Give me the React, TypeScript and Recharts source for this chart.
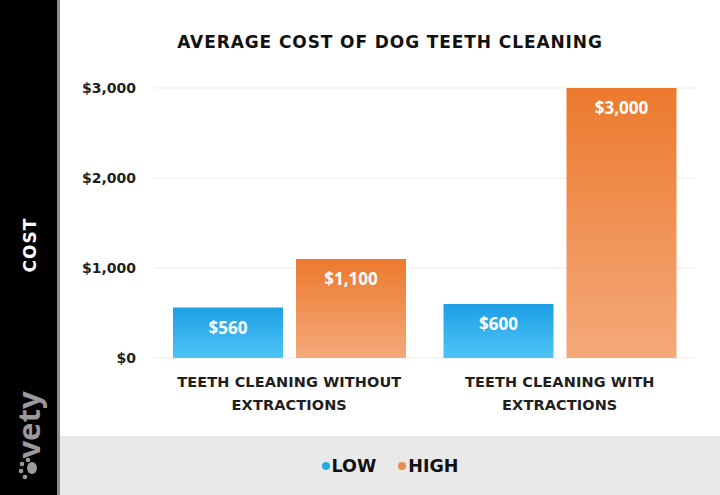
import React from "react";
import { BarChart, Bar, XAxis, YAxis, CartesianGrid, LabelList } from "recharts";

const categories = ["TEETH CLEANING WITHOUT EXTRACTIONS", "TEETH CLEANING WITH EXTRACTIONS"];
const categoryLines = [
  ["TEETH CLEANING WITHOUT", "EXTRACTIONS"],
  ["TEETH CLEANING WITH", "EXTRACTIONS"],
];
const lowCosts = [560, 600];
const highCosts = [1100, 3000];
const yTicks = [0, 1000, 2000, 3000];

const data = categories.map((name, i) => ({
  name,
  low: lowCosts[i],
  high: highCosts[i],
}));

const FONT = "'DejaVu Sans', sans-serif";
const LABEL_FONT = "'Open Sans', 'DejaVu Sans', sans-serif";
const money = (v: any) => `$${Number(v).toLocaleString("en-US")}`;

function CategoryTick(props: any) {
  const { x, y, index } = props;
  const lines = categoryLines[index] ?? [];
  return (
    <g transform={`translate(${x},${y})`}>
      {lines.map((line, i) => (
        <text
          key={i}
          x={0}
          y={21 + i * 23}
          textAnchor="middle"
          fill="#1f1f1f"
          fontSize={14.5}
          fontWeight={700}
          fontFamily={FONT}
          letterSpacing={0.1}
        >
          {line}
        </text>
      ))}
    </g>
  );
}

export default function App() {
  return (
    <div
      style={{
        position: "absolute",
        left: 0,
        top: 0,
        width: 720,
        height: 495,
        background: "#fff",
        overflow: "hidden",
        fontFamily: FONT,
      }}
    >
      <div
        style={{
          position: "absolute",
          top: 32,
          left: 60,
          right: 0,
          textAlign: "center",
          fontSize: 17,
          lineHeight: "20px",
          fontWeight: 700,
          letterSpacing: 0.9,
          color: "#111",
        }}
      >
        AVERAGE COST OF DOG TEETH CLEANING
      </div>

      <div style={{ position: "absolute", left: 0, top: 0 }}>
        <BarChart
          width={720}
          height={436}
          data={data}
          margin={{ top: 88, right: 25, bottom: 18, left: 0 }}
          barSize={110}
          barGap={13}
        >
          <defs>
            <linearGradient id="lowGrad" x1="0" y1="0" x2="0" y2="1">
              <stop offset="0%" stopColor="#1c9fe4" />
              <stop offset="100%" stopColor="#4fc4f6" />
            </linearGradient>
            <linearGradient id="highGrad" x1="0" y1="0" x2="0" y2="1">
              <stop offset="0%" stopColor="#ec7a2e" />
              <stop offset="100%" stopColor="#f4a97a" />
            </linearGradient>
          </defs>
          <CartesianGrid vertical={false} stroke="#ececec" />
          <XAxis
            dataKey="name"
            axisLine={false}
            tickLine={false}
            height={60}
            tick={<CategoryTick />}
            interval={0}
          />
          <YAxis
            width={154}
            domain={[0, 3000]}
            ticks={yTicks}
            axisLine={false}
            tickLine={false}
            tickSize={6}
            tickMargin={12}
            tickFormatter={money}
            tick={{ fill: "#1f1f1f", fontSize: 14, fontWeight: 700, fontFamily: FONT }}
          />
          <Bar dataKey="low" fill="url(#lowGrad)" isAnimationActive={false}>
            <LabelList
              dataKey="low"
              position="insideTop"
              offset={14}
              formatter={money}
              fill="#fff"
              fontSize={17}
              fontWeight={700}
              fontFamily={LABEL_FONT}
            />
          </Bar>
          <Bar dataKey="high" fill="url(#highGrad)" isAnimationActive={false}>
            <LabelList
              dataKey="high"
              position="insideTop"
              offset={14}
              formatter={money}
              fill="#fff"
              fontSize={17}
              fontWeight={700}
              fontFamily={LABEL_FONT}
            />
          </Bar>
        </BarChart>
      </div>

      {/* sidebar */}
      <div
        style={{
          position: "absolute",
          left: 0,
          top: 0,
          width: 57,
          height: 495,
          background: "#000",
          borderRight: "3px solid #8a8a8a",
        }}
      >
        <svg width={57} height={495}>
          <text
            x={0}
            y={0}
            transform="translate(36,245) rotate(-90)"
            textAnchor="middle"
            fill="#fff"
            fontSize={17}
            fontWeight={700}
            fontFamily={FONT}
            letterSpacing={1}
          >
            COST
          </text>
          <text
            x={0}
            y={0}
            transform="translate(40,425) rotate(-90)"
            textAnchor="middle"
            fill="#9a9a9a"
            fontSize={31}
            fontWeight={700}
            fontFamily={LABEL_FONT}
          >
            vety
          </text>
          <g fill="#9a9a9a">
            <ellipse cx={32} cy={468} rx={5} ry={6} />
            <circle cx={28} cy={460} r={2.3} />
            <circle cx={22} cy={464} r={2.3} />
            <circle cx={21} cy={471} r={2.3} />
            <circle cx={25} cy={477} r={2.3} />
          </g>
        </svg>
      </div>

      {/* legend band */}
      <div
        style={{
          position: "absolute",
          left: 60,
          top: 436,
          width: 660,
          height: 59,
          background: "#e9e9e9",
          display: "flex",
          alignItems: "center",
          justifyContent: "center",
          gap: 22,
          fontSize: 17.5,
          fontWeight: 700,
          color: "#111",
        }}
      >
        <span style={{ display: "flex", alignItems: "center" }}>
          <span style={{ width: 8, height: 8, borderRadius: 4, background: "#29a9e1", marginRight: 2 }} />
          LOW
        </span>
        <span style={{ display: "flex", alignItems: "center" }}>
          <span style={{ width: 8, height: 8, borderRadius: 4, background: "#e88a52", marginRight: 2 }} />
          HIGH
        </span>
      </div>
    </div>
  );
}
